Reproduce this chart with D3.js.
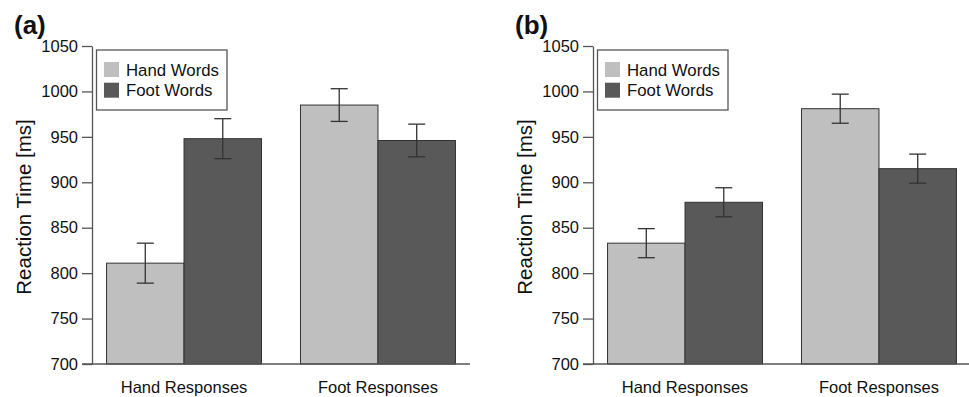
<!DOCTYPE html>
<html>
<head>
<meta charset="utf-8">
<script src="https://cdn.jsdelivr.net/npm/d3@7"></script>
<style>
  body { margin: 0; background: #fff; }
  svg { display: block; font-family: "Liberation Sans", Arial, Helvetica, sans-serif; }
</style>
</head>
<body>
<svg id="chart" width="969" height="397"></svg>
<script>
// data
const responses = ["Hand Responses", "Foot Responses"];
const words = ["Hand Words", "Foot Words"];
const yTicks = [700, 750, 800, 850, 900, 950, 1000, 1050];

// panel (a)
const meansA = [[811, 948], [985, 946]];
const errA = [[22, 22], [18, 18]];
// panel (b)
const meansB = [[833, 878], [981, 915]];
const errB = [[16, 16], [16, 16]];

const colors = ["#bfbfbf", "#595959"];

const svg = d3.select("#chart");

function drawPanel(offsetX, label, means, errs) {
    const g = svg.append("g").attr("transform", `translate(${offsetX},0)`);

    const y = d3.scaleLinear().domain([700, 1050]).range([364, 46]);

    const x0 = d3.scaleBand()
        .domain(responses)
        .range([92, 470])
        .paddingInner(0.201)
        .paddingOuter(0.075);

    const x1 = d3.scaleBand()
        .domain(words)
        .range([0, x0.bandwidth()]);

    // flatten into rows
    let rows = [];
    responses.forEach((r, i) => {
        words.forEach((w, j) => {
            rows.push({ resp: r, word: w, mean: means[i][j], err: errs[i][j], color: colors[j] });
        });
    });

    // bars
    g.selectAll(".bar")
        .data(rows)
        .join("rect")
        .attr("class", "bar")
        .attr("x", d => x0(d.resp) + x1(d.word))
        .attr("y", d => y(d.mean))
        .attr("width", x1.bandwidth())
        .attr("height", d => y(700) - y(d.mean))
        .attr("fill", d => d.color)
        .attr("stroke", "#333")
        .attr("stroke-width", 1);

    // error bars
    const capW = 8.5;
    const cx = d => x0(d.resp) + x1(d.word) + x1.bandwidth() / 2;
    const eb = g.selectAll(".err")
        .data(rows)
        .join("g")
        .attr("class", "err")
        .attr("stroke", "#333")
        .attr("stroke-width", 1.3);
    eb.append("line")
        .attr("x1", cx)
        .attr("x2", cx)
        .attr("y1", d => y(d.mean + d.err))
        .attr("y2", d => y(d.mean - d.err));
    eb.append("line")
        .attr("x1", d => cx(d) - capW)
        .attr("x2", d => cx(d) + capW)
        .attr("y1", d => y(d.mean + d.err))
        .attr("y2", d => y(d.mean + d.err));
    eb.append("line")
        .attr("x1", d => cx(d) - capW)
        .attr("x2", d => cx(d) + capW)
        .attr("y1", d => y(d.mean - d.err))
        .attr("y2", d => y(d.mean - d.err));

    // y axis
    const yAxis = d3.axisLeft(y)
        .tickValues(yTicks)
        .tickFormat(d3.format("d"))
        .tickSize(10)
        .tickPadding(4)
        .tickSizeOuter(0);
    const ya = g.append("g")
        .attr("transform", "translate(92,0)")
        .call(yAxis);
    ya.selectAll("path, line").attr("stroke", "#555").attr("stroke-width", 1.3);
    ya.selectAll("text")
        .attr("font-size", 16.5)
        .attr("font-family", "Liberation Sans, Arial, sans-serif")
        .attr("fill", "#111");

    // x axis baseline (runs under the tick marks as well)
    g.append("line")
        .attr("x1", 82)
        .attr("x2", x0.range()[1])
        .attr("y1", y(700))
        .attr("y2", y(700))
        .attr("stroke", "#555")
        .attr("stroke-width", 1.3);

    // x labels
    g.selectAll(".xlab")
        .data(responses)
        .join("text")
        .attr("class", "xlab")
        .attr("x", d => x0(d) + x0.bandwidth() / 2)
        .attr("y", 393)
        .attr("text-anchor", "middle")
        .attr("font-size", 16.5)
        .attr("fill", "#111")
        .text(d => d);

    // y title
    g.append("text")
        .attr("transform", "translate(31,207) rotate(-90)")
        .attr("text-anchor", "middle")
        .attr("font-size", 20.5)
        .attr("fill", "#111")
        .text("Reaction Time [ms]");

    // panel label
    g.append("text")
        .attr("x", 14)
        .attr("y", 34)
        .attr("font-size", 26)
        .attr("font-weight", "bold")
        .attr("fill", "#111")
        .text(label);

    // legend
    const lg = g.append("g").attr("transform", "translate(96.5,50)");
    lg.append("rect")
        .attr("width", 130.5)
        .attr("height", 60)
        .attr("fill", "#fff")
        .attr("stroke", "#555")
        .attr("stroke-width", 1.3);
    words.forEach((w, i) => {
        lg.append("rect")
            .attr("x", 7.5)
            .attr("y", 12 + i * 20.7)
            .attr("width", 15)
            .attr("height", 15)
            .attr("fill", colors[i]);
        lg.append("text")
            .attr("x", 29.5)
            .attr("y", 26 + i * 20)
            .attr("font-size", 16.8)
            .attr("fill", "#111")
            .text(w);
    });
}

drawPanel(0, "(a)", meansA, errA);
drawPanel(501, "(b)", meansB, errB);
</script>
</body>
</html>
